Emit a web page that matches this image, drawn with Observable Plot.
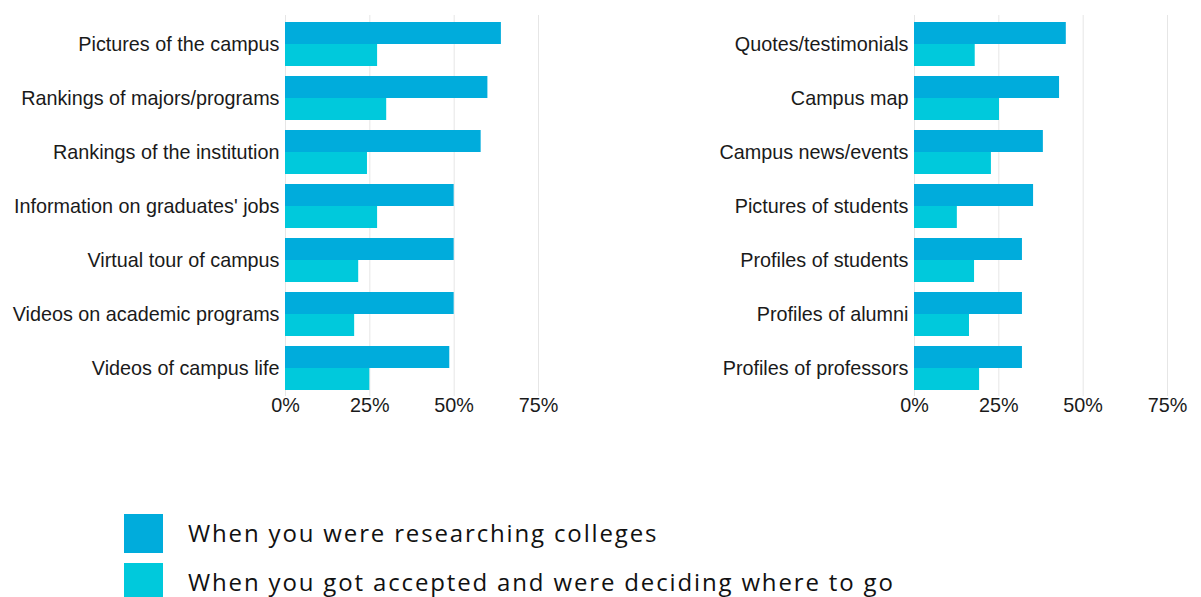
<!DOCTYPE html>
<html><head><meta charset="utf-8">
<script src="https://cdn.jsdelivr.net/npm/d3@7"></script>
<script src="https://cdn.jsdelivr.net/npm/@observablehq/plot@0.6"></script>
<style>
body{margin:0;background:#fff;}
#wrap{position:relative;width:1201px;height:597px;overflow:hidden;background:#fff;}
#left{position:absolute;left:0;top:0;}
#right{position:absolute;left:600px;top:0;}
.sw{position:absolute;left:124px;width:39px;height:39px;}
.lt{position:absolute;left:188px;font-family:"Open Sans",sans-serif;font-size:24px;letter-spacing:1.85px;color:#111;line-height:1;white-space:nowrap;}
</style></head><body>
<div id="wrap"><div id="left"></div><div id="right"></div><div id="legend"></div></div>
<script>
const seriesNames = ["When you were researching colleges", "When you got accepted and were deciding where to go"];
const seriesColors = ["#00acdc", "#00c9dc"];
const xTicks = [0, 0.25, 0.5, 0.75];

const leftCategories = ["Pictures of the campus", "Rankings of majors/programs", "Rankings of the institution", "Information on graduates' jobs", "Virtual tour of campus", "Videos on academic programs", "Videos of campus life"];
const leftResearching = [0.64, 0.60, 0.58, 0.50, 0.50, 0.50, 0.487];
const leftDeciding = [0.273, 0.30, 0.243, 0.273, 0.217, 0.205, 0.25];

const rightCategories = ["Quotes/testimonials", "Campus map", "Campus news/events", "Pictures of students", "Profiles of students", "Profiles of alumni", "Profiles of professors"];
const rightResearching = [0.45, 0.43, 0.382, 0.353, 0.32, 0.32, 0.32];
const rightDeciding = [0.18, 0.252, 0.228, 0.127, 0.178, 0.163, 0.193];

function chart(cats, a, b, marginLeft, width) {
  const researching = cats.map((c, i) => ({category: c, value: a[i], series: seriesNames[0]}));
  const deciding = cats.map((c, i) => ({category: c, value: b[i], series: seriesNames[1]}));
  const fmt = d3.format(".0%");
  return Plot.plot({
    width, height: 431,
    marginLeft, marginRight: width - marginLeft - 253, marginTop: 15, marginBottom: 35,
    style: {fontFamily: "'Liberation Sans', Arial, sans-serif", fontSize: "19.8px", color: "#1a1a1a", background: "transparent", overflow: "visible"},
    x: {domain: [0, 0.75]},
    y: {domain: cats, paddingInner: 0.19, paddingOuter: 0.1},
    marks: [
      Plot.gridX(xTicks, {stroke: "#e6e6e6", strokeOpacity: 1}),
      Plot.barX(researching, {x: "value", y: "category", fill: seriesColors[0], insetBottom: 22}),
      Plot.barX(deciding, {x: "value", y: "category", fill: seriesColors[1], insetTop: 22}),
      Plot.axisY({tickSize: 0, tickPadding: 6, label: null}),
      Plot.axisX(xTicks, {tickSize: 0, tickPadding: 1, label: null, tickFormat: fmt})
    ]
  });
}

document.getElementById("left").appendChild(chart(leftCategories, leftResearching, leftDeciding, 285, 565));
document.getElementById("right").appendChild(chart(rightCategories, rightResearching, rightDeciding, 314, 597));

const legend = document.getElementById("legend");
const swTops = [514, 563];
seriesNames.forEach((name, i) => {
  const sw = document.createElement("div");
  sw.className = "sw";
  sw.style.top = swTops[i] + "px";
  sw.style.background = seriesColors[i];
  legend.appendChild(sw);
  const t = document.createElement("div");
  t.className = "lt";
  t.style.top = (swTops[i] + 7) + "px";
  t.textContent = name;
  legend.appendChild(t);
});
</script>
</body></html>
